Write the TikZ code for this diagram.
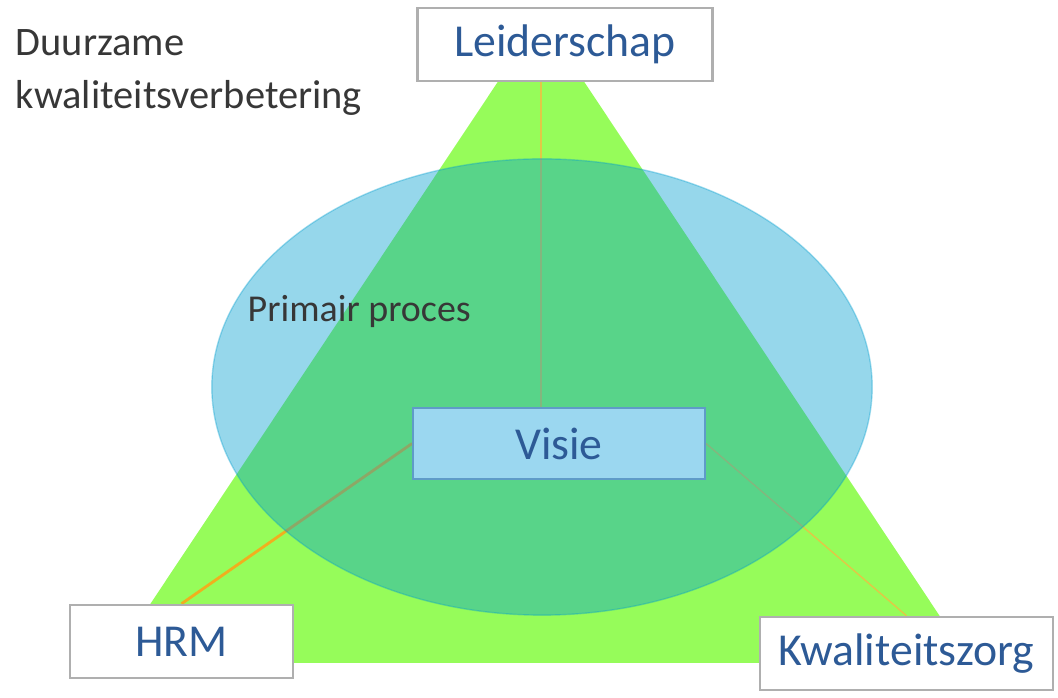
\documentclass[tikz,border=0pt]{standalone}
\usepackage{fontspec}
\setmainfont{Carlito}
\usepackage{tikz}
\usetikzlibrary{backgrounds}
\definecolor{trigreen}{RGB}{150,252,90}
\definecolor{ellblue}{RGB}{0,157,206}
\definecolor{visiefill}{RGB}{155,215,240}
\definecolor{visiedraw}{RGB}{95,155,200}
\definecolor{boxgray}{RGB}{175,175,175}
\definecolor{labelblue}{RGB}{45,90,150}
\definecolor{darktext}{RGB}{55,55,55}
\definecolor{lijngeel}{RGB}{225,200,70}
\definecolor{lijnoranje}{RGB}{240,175,30}
\tikzset{
    %Define style for boxes
    labelbox/.style={
           rectangle,
           draw=boxgray, line width=0.7pt,
           fill=white,
           minimum height=0.73cm,
           font=\fontsize{13}{15}\selectfont,
           text=labelblue,
           text centered},
    visiebox/.style={
           labelbox,
           fill=visiefill,
           draw=visiedraw, line width=0.5pt,
           minimum height=0.71cm},
    %Define style for free text
    losse tekst/.style={
           inner sep=0pt,
           text=darktext},
    % Define line styles
    lijn/.style={
           draw=lijngeel, line width=0.4pt},
    lijn dik/.style={
           draw=lijnoranje, line width=0.8pt}
}
\begin{document}
\begin{tikzpicture}[x=0.01cm,y=-0.01cm]
\useasboundingbox (0,0) rectangle (1058,698);
\coordinate (apex) at (541,17);
\coordinate (linksonder) at (111,663);
\coordinate (rechtsonder) at (971,663);
\node[labelbox, minimum width=2.95cm] (leider) at (565,44.5) {Leiderschap};
\node[labelbox, minimum width=2.23cm] (hrm) at (181.5,641.5) {HRM};
\node[labelbox, minimum width=2.93cm] (kwal) at (906.5,653.5) {Kwaliteitszorg};
\node[visiebox, minimum width=2.92cm] (visie) at (559,443.5) {Visie};
\node[losse tekst, anchor=north west, align=left,
      font=\fontsize{11.5}{15}\selectfont] (duurzaam) at (15,29) {Duurzame\\kwaliteitsverbetering};
\node[losse tekst, anchor=base west,
      font=\fontsize{10.8}{13}\selectfont] (primair) at (247,322) {Primair proces};
\begin{pgfonlayer}{background}
\fill[trigreen] (apex) -- (linksonder) -- (rechtsonder) -- cycle;
\path[lijn] (apex) edge (visie.north -| apex);
\path[lijn dik] (visie.west) edge (hrm.north);
\path[lijn] (visie.east) edge (kwal.north);
\fill[ellblue, fill opacity=0.41] (542,387) ellipse [x radius=3.3cm, y radius=2.28cm];
\draw[ellblue, opacity=0.35, line width=0.4pt] (542,387) ellipse [x radius=3.3cm, y radius=2.28cm];
\end{pgfonlayer}
\end{tikzpicture}
\end{document}
